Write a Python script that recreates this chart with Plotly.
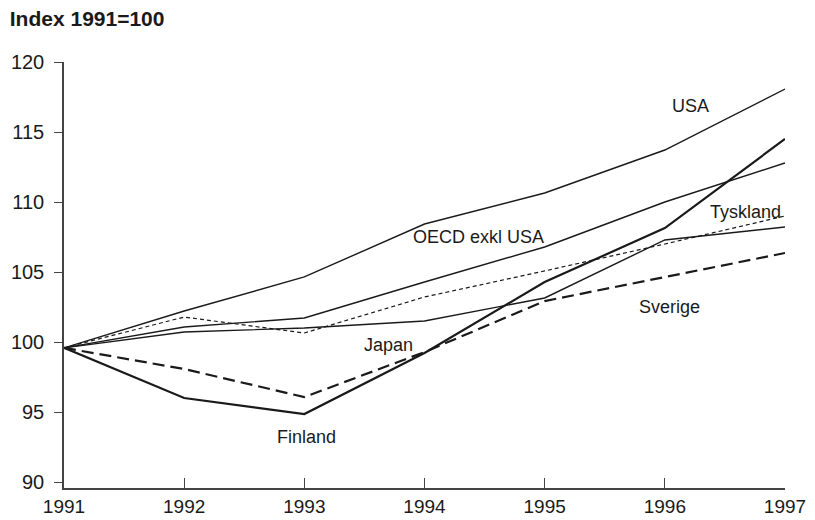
import plotly.graph_objects as go

years = [1991, 1992, 1993, 1994, 1995, 1996, 1997]
usa = [99.6, 102.23, 104.66, 108.44, 110.65, 113.72, 118.07]
oecd = [99.6, 101.09, 101.73, 104.30, 106.80, 110.01, 112.79]
japan = [99.6, 100.73, 101.02, 101.52, 103.16, 107.30, 108.23]
tyskland = [99.6, 101.80, 100.66, 103.23, 105.09, 107.01, 109.01]
finland = [99.6, 96.02, 94.88, 99.23, 104.30, 108.15, 114.51]
sverige = [99.6, 98.09, 96.09, 99.30, 102.94, 104.66, 106.37]

y_ticks = [90, 95, 100, 105, 110, 115, 120]

labels = ["USA", "OECD exkl USA", "Tyskland", "Sverige", "Japan", "Finland"]
label_x = [1996.21, 1994.45, 1996.67, 1996.04, 1993.70, 1993.02]
label_y = [116.86, 107.51, 109.30, 102.52, 99.80, 93.24]

ink = "#1a1a1a"
series = [
    ("USA", usa, 1.4, "solid"),
    ("OECD exkl USA", oecd, 1.4, "solid"),
    ("Japan", japan, 1.4, "solid"),
    ("Tyskland", tyskland, 1.2, "4px,3px"),
    ("Finland", finland, 2.2, "solid"),
    ("Sverige", sverige, 2.2, "12px,6px"),
]

fig = go.Figure()
for name, vals, w, dash in series:
    fig.add_trace(go.Scatter(x=years, y=vals, mode="lines", name=name,
                             line=dict(color=ink, width=w, dash=dash)))

for t, x, y in zip(labels, label_x, label_y):
    fig.add_annotation(x=x, y=y, text=t, showarrow=False,
                       font=dict(family="Liberation Sans", size=18, color=ink))

fig.update_layout(
    width=815, height=520,
    margin=dict(l=64, r=30, t=62, b=32, autoexpand=False),
    paper_bgcolor="white", plot_bgcolor="white",
    showlegend=False,
    font=dict(family="Liberation Sans", color=ink),
    title=dict(text="<b>Index 1991=100</b>", x=0.012, xanchor="left",
               y=0.965, yanchor="middle",
               font=dict(family="Liberation Sans", size=21, color=ink)),
    xaxis=dict(range=[1991, 1997], tickvals=years, ticktext=[str(y) for y in years],
               showgrid=False, zeroline=False, showline=True, linecolor="#444",
               linewidth=1.5, ticks="inside", ticklen=10, tickcolor="#444",
               automargin=False,
               tickfont=dict(size=19, color=ink)),
    yaxis=dict(range=[89.6, 120.0], tickvals=y_ticks, ticktext=[str(v) for v in y_ticks],
               showgrid=False, zeroline=False, showline=True, linecolor="#444",
               linewidth=1.5, ticks="outside", ticklen=8, tickcolor="#444",
               ticklabelstandoff=6, automargin=False,
               tickfont=dict(size=20, color=ink)),
)
fig.write_html("out.html", config={"displayModeBar": False},
               post_script="document.body.style.margin='0';document.body.style.overflow='hidden';")
